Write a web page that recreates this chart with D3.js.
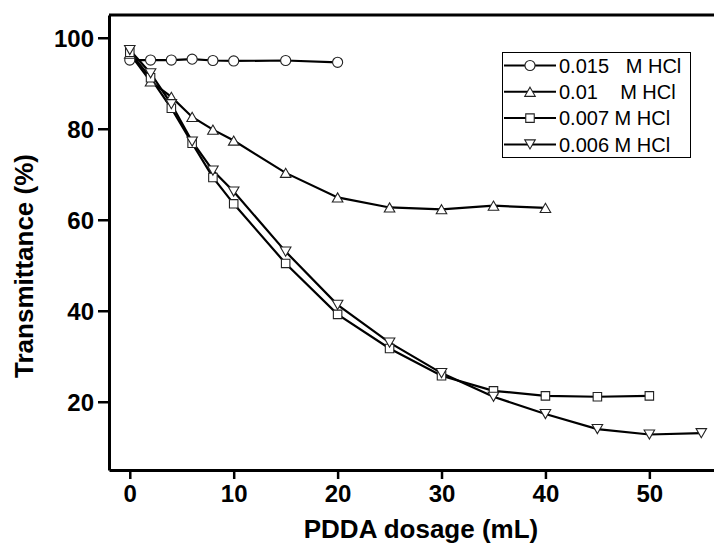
<!DOCTYPE html>
<html>
<head>
<meta charset="utf-8">
<script src="https://cdn.jsdelivr.net/npm/d3@7/dist/d3.min.js"></script>
<style>
  body { margin: 0; background: #fff; }
  text { font-family: "Liberation Sans", Arial, sans-serif; }
</style>
</head>
<body>
<script>
// PDDA dosage (mL) for each HCl series
var dose015 = [0, 2, 4, 6, 8, 10, 15, 20];
var trans015 = [95.1, 95.1, 95.1, 95.3, 95.0, 94.9, 95.0, 94.6];

var dose01 = [0, 2, 4, 6, 8, 10, 15, 20, 25, 30, 35, 40];
var trans01 = [96.5, 90.4, 87.0, 82.6, 79.8, 77.4, 70.3, 64.9, 62.7, 62.3, 63.1, 62.6];

var dose007 = [0, 2, 4, 6, 8, 10, 15, 20, 25, 30, 35, 40, 45, 50];
var trans007 = [96.8, 91.2, 84.5, 76.8, 69.3, 63.5, 50.4, 39.2, 31.7, 25.7, 22.4, 21.3, 21.1, 21.3];

var dose006 = [0, 2, 4, 6, 8, 10, 15, 20, 25, 30, 35, 40, 45, 50, 55];
var trans006 = [97.3, 92.2, 85.4, 77.2, 70.8, 66.2, 53.0, 41.3, 33.0, 26.3, 21.1, 17.3, 14.0, 12.8, 13.1];

var seriesNames = ["0.015   M HCl", "0.01    M HCl", "0.007 M HCl", "0.006 M HCl"];
var xTicks = [0, 10, 20, 30, 40, 50];
var yTicks = [20, 40, 60, 80, 100];

var width = 714;
var height = 544;
var margin = {top: 15, left: 109};
var plotW = 624;
var plotH = 455;

var series = [
    {name: seriesNames[0], x: dose015, y: trans015, shape: "circle"},
    {name: seriesNames[1], x: dose01, y: trans01, shape: "up"},
    {name: seriesNames[2], x: dose007, y: trans007, shape: "square"},
    {name: seriesNames[3], x: dose006, y: trans006, shape: "down"}
];

var svg = d3.select("body").append("svg")
    .attr("width", width)
    .attr("height", height);

var x = d3.scaleLinear().domain([-2, 58.05]).range([0, plotW]);
var y = d3.scaleLinear().domain([5, 105]).range([plotH, 0]);

var g = svg.append("g")
    .attr("transform", "translate(" + margin.left + "," + margin.top + ")");

// top frame line (right side falls outside the picture)
g.append("line")
    .attr("x1", 0).attr("x2", plotW)
    .attr("y1", 0).attr("y2", 0)
    .style("stroke", "#000")
    .style("stroke-width", 3);

var xAxis = g.append("g")
    .attr("transform", "translate(0," + plotH + ")")
    .call(d3.axisBottom(x).tickValues(xTicks).tickSize(9).tickPadding(6).tickSizeOuter(0));

var yAxis = g.append("g")
    .call(d3.axisLeft(y).tickValues(yTicks).tickSize(11).tickPadding(4).tickSizeOuter(0));

[xAxis, yAxis].forEach(function(ax){
    ax.select(".domain").style("stroke-width", 3);
    ax.selectAll(".tick line").style("stroke-width", 2.5);
    ax.selectAll(".tick text")
        .style("font-size", "24px")
        .style("font-weight", "bold")
        .style("font-family", "'Liberation Sans', Arial, sans-serif")
        .attr("fill", "#000");
});
yAxis.selectAll(".tick text").attr("dy", "0.36em");

// axis titles
svg.append("text")
    .attr("x", margin.left + plotW / 2)
    .attr("y", 538)
    .attr("text-anchor", "middle")
    .style("font-size", "26px")
    .style("font-weight", "bold")
    .text("PDDA dosage (mL)");

svg.append("text")
    .attr("transform", "translate(33,266) rotate(-90)")
    .attr("text-anchor", "middle")
    .style("font-size", "26px")
    .style("font-weight", "bold")
    .text("Transmittance (%)");

function markerPath(shape){
    if ( shape === "circle" ) {
        return d3.symbol().type(d3.symbolCircle).size(80)();
    }
    if ( shape === "square" ) {
        return d3.symbol().type(d3.symbolSquare).size(72)();
    }
    return d3.symbol().type(d3.symbolTriangle).size(48)();
}

function markerTransform(shape, px, py){
    // shift triangles so their bounding box centres on the point
    if ( shape === "up" ) {
        return "translate(" + px + "," + (py + 1.5) + ")";
    }
    if ( shape === "down" ) {
        return "translate(" + px + "," + (py - 1.5) + ") rotate(180)";
    }
    return "translate(" + px + "," + py + ")";
}

var line = d3.line()
    .x(function(d){ return x(d[0]); })
    .y(function(d){ return y(d[1]); });

var plot = g.append("g");

series.forEach(function(s){
    var pts = s.x.map(function(v, i){ return [v, s.y[i]]; });
    plot.append("path")
        .datum(pts)
        .attr("d", line)
        .style("fill", "none")
        .style("stroke", "#000")
        .style("stroke-width", 2.2);
});

series.forEach(function(s){
    var pts = s.x.map(function(v, i){ return [v, s.y[i]]; });
    plot.selectAll("path.m-" + s.shape)
            .data(pts)
        .enter().append("path")
            .attr("class", "m-" + s.shape)
            .attr("d", markerPath(s.shape))
            .attr("transform", function(d){
                return markerTransform(s.shape, x(d[0]), y(d[1]));
            })
            .style("fill", "#fff")
            .style("stroke", "#222")
            .style("stroke-width", 1.1);
});

/*
 * LEGEND
 */
var legend = svg.append("g");
legend.append("rect")
    .attr("x", 502.5).attr("y", 52.5)
    .attr("width", 188).attr("height", 105)
    .style("fill", "#fff")
    .style("stroke", "#000")
    .style("stroke-width", 1);

var rows = legend.selectAll("g.row")
        .data(series)
    .enter().append("g")
        .attr("class", "row")
        .attr("transform", function(d, i){
            return "translate(0," + (65.5 + i * 26.3) + ")";
        });

rows.append("line")
    .attr("x1", 504).attr("x2", 556)
    .attr("y1", 0).attr("y2", 0)
    .style("stroke", "#000")
    .style("stroke-width", 2);

rows.append("path")
    .attr("d", function(d){ return markerPath(d.shape); })
    .attr("transform", function(d){ return markerTransform(d.shape, 530, 0); })
    .style("fill", "#fff")
    .style("stroke", "#222")
    .style("stroke-width", 1.1);

rows.append("text")
    .attr("x", 559)
    .attr("y", 0)
    .attr("dy", "0.36em")
    .style("font-size", "20px")
    .style("white-space", "pre")
    .text(function(d){ return d.name; });
</script>
</body>
</html>
